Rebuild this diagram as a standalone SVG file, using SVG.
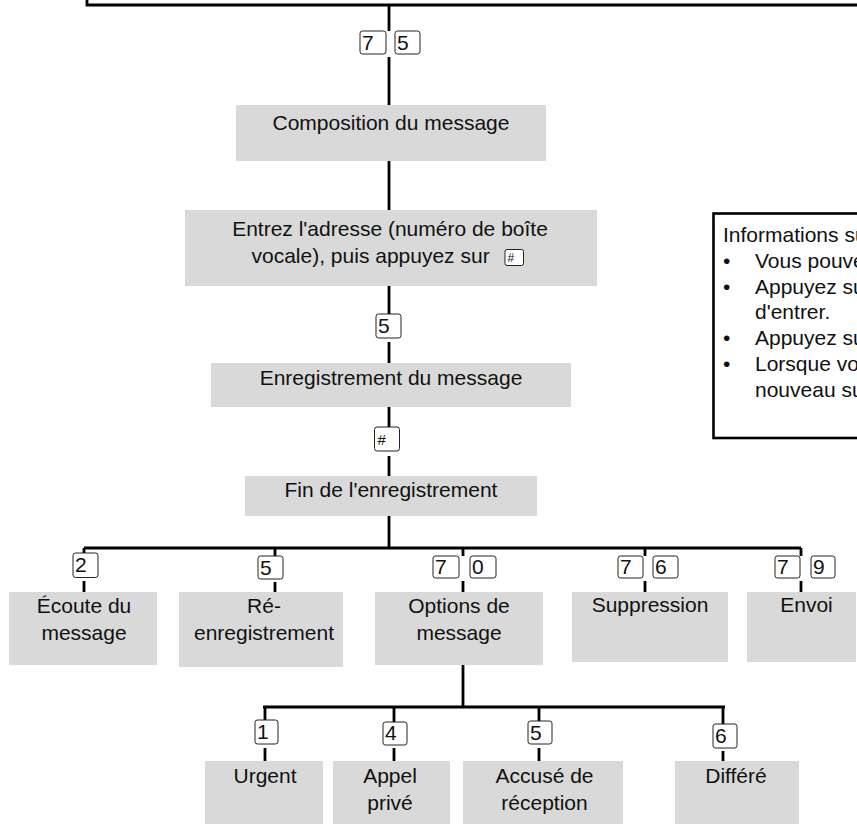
<svg xmlns="http://www.w3.org/2000/svg" width="857" height="824" viewBox="0 0 857 824">
<style>
  .box { fill: #d9d9d9; }
  .t { font-family: "Liberation Sans", Arial, Helvetica, sans-serif; font-size: 21px; fill: #111; }
  .c { text-anchor: middle; }
  .ln { fill: none; stroke: #000; stroke-width: 2.8; }
  .key { fill: #fff; stroke: #222; stroke-width: 1; }
  .kt { font-family: "Liberation Sans", Arial, Helvetica, sans-serif; font-size: 21px; fill: #111; }
  .ks { font-family: "Liberation Sans", Arial, Helvetica, sans-serif; font-size: 15px; fill: #111; }
</style>
<rect width="857" height="824" fill="#fff"/>

<g id="connectors">
  <path class="ln" d="M87 0 V5 H857"/>
  <path class="ln" d="M389 5 V31 M389 57 V105 M389 161 V210 M389 286 V314 M389 342 V363 M389 407 V427 M389 456 V476 M389 516 V548"/>
  <path class="ln" d="M84 548 H801"/>
  <path class="ln" d="M84 548 V553 M84 581 V592 M275 548 V556 M275 582 V592 M463 548 V556 M463 581 V592 M645 548 V556 M645 581 V592 M801 548 V556 M801 581 V592"/>
  <path class="ln" d="M463 665 V707 M263 707 H725"/>
  <path class="ln" d="M265 707 V720 M265 748 V761 M394 707 V722 M394 748 V761 M539 707 V721 M539 748 V761 M723 707 V724 M723 751 V761"/>
</g>

<g id="keys">
  <rect class="key" x="360" y="31" width="26" height="23" rx="2.5"/><text class="kt" x="362" y="50">7</text>
  <rect class="key" x="395" y="31" width="25" height="23" rx="2.5"/><text class="kt" x="397" y="50">5</text>
  <rect class="key" x="376" y="314" width="25" height="24" rx="2.5"/><text class="kt" x="378" y="333">5</text>
  <rect class="key" x="374.5" y="427" width="25" height="24" rx="2.5"/><text class="ks" x="377.5" y="445">#</text>
  <rect class="key" x="73" y="553" width="25" height="24.5" rx="2.5"/><text class="kt" x="75" y="572">2</text>
  <rect class="key" x="258" y="556" width="25" height="23" rx="2.5"/><text class="kt" x="260" y="575">5</text>
  <rect class="key" x="433" y="556" width="26" height="22" rx="2.5"/><text class="kt" x="435" y="574">7</text>
  <rect class="key" x="470" y="556" width="26" height="22" rx="2.5"/><text class="kt" x="472" y="574">0</text>
  <rect class="key" x="618" y="556" width="25" height="22" rx="2.5"/><text class="kt" x="620" y="574">7</text>
  <rect class="key" x="653" y="556" width="25" height="22" rx="2.5"/><text class="kt" x="655" y="574">6</text>
  <rect class="key" x="775" y="556" width="25" height="22" rx="2.5"/><text class="kt" x="777" y="574">7</text>
  <rect class="key" x="811" y="556" width="24" height="22" rx="2.5"/><text class="kt" x="813" y="574">9</text>
  <rect class="key" x="255" y="720" width="23" height="24" rx="2.5"/><text class="kt" x="257" y="739">1</text>
  <rect class="key" x="383" y="722" width="24" height="23" rx="2.5"/><text class="kt" x="385" y="740">4</text>
  <rect class="key" x="528" y="721" width="24" height="23" rx="2.5"/><text class="kt" x="530" y="740">5</text>
  <rect class="key" x="713" y="724" width="24" height="24" rx="2.5"/><text class="kt" x="715" y="743">6</text>
</g>

<g id="composition">
  <rect class="box" x="236" y="105" width="310" height="56"/>
  <text class="t c" x="391" y="130">Composition du message</text>
</g>

<g id="adresse">
  <rect class="box" x="185" y="210" width="412" height="76"/>
  <text class="t c" x="390" y="236">Entrez l'adresse (numéro de boîte</text>
  <text class="t" x="251.5" y="263">vocale), puis appuyez sur</text>
  <rect class="key" x="505" y="249.5" width="18.5" height="16" rx="2"/>
  <text class="ks" x="507.5" y="262" style="font-size:12px">#</text>
</g>

<g id="enregistrement">
  <rect class="box" x="211" y="363" width="360" height="44"/>
  <text class="t c" x="391" y="385">Enregistrement du message</text>
</g>

<g id="fin">
  <rect class="box" x="245" y="476" width="292" height="40"/>
  <text class="t c" x="391" y="497">Fin de l'enregistrement</text>
</g>

<g id="ecoute">
  <rect class="box" x="9" y="592" width="148" height="73"/>
  <text class="t c" x="84" y="613">Écoute du</text>
  <text class="t c" x="84" y="640">message</text>
</g>

<g id="reenregistrement">
  <rect class="box" x="179" y="592" width="164" height="75"/>
  <text class="t c" x="264" y="613">Ré-</text>
  <text class="t c" x="264" y="640">enregistrement</text>
</g>

<g id="options">
  <rect class="box" x="375" y="592" width="168" height="73"/>
  <text class="t c" x="459" y="613">Options de</text>
  <text class="t c" x="459" y="640">message</text>
</g>

<g id="suppression">
  <rect class="box" x="572" y="592" width="156" height="70"/>
  <text class="t c" x="650" y="612">Suppression</text>
</g>

<g id="envoi">
  <rect class="box" x="747" y="592" width="109" height="70"/>
  <text class="t c" x="806.5" y="612">Envoi</text>
</g>

<g id="urgent">
  <rect class="box" x="205" y="761" width="118" height="63"/>
  <text class="t c" x="265" y="783">Urgent</text>
</g>

<g id="appel">
  <rect class="box" x="333" y="761" width="117" height="63"/>
  <text class="t c" x="390" y="783">Appel</text>
  <text class="t c" x="390" y="810">privé</text>
</g>

<g id="accuse">
  <rect class="box" x="463" y="761" width="160" height="63"/>
  <text class="t c" x="544.5" y="783">Accusé de</text>
  <text class="t c" x="544.5" y="810">réception</text>
</g>

<g id="differe">
  <rect class="box" x="675" y="761" width="124" height="63"/>
  <text class="t c" x="736" y="783">Différé</text>
</g>

<g id="informations">
  <rect x="713.5" y="213.5" width="200" height="224.5" fill="#fff" stroke="#000" stroke-width="2.6"/>
  <text class="t" x="723" y="242">Informations su</text>
  <text class="t" x="723" y="267.8">•</text>
  <text class="t" x="755" y="267.8">Vous pouve</text>
  <text class="t" x="723" y="293.6">•</text>
  <text class="t" x="755" y="293.6">Appuyez su</text>
  <text class="t" x="755" y="319.4">d'entrer.</text>
  <text class="t" x="723" y="345.2">•</text>
  <text class="t" x="755" y="345.2">Appuyez su</text>
  <text class="t" x="723" y="371">•</text>
  <text class="t" x="755" y="371">Lorsque vo</text>
  <text class="t" x="755" y="396.8">nouveau su</text>
</g>
</svg>
